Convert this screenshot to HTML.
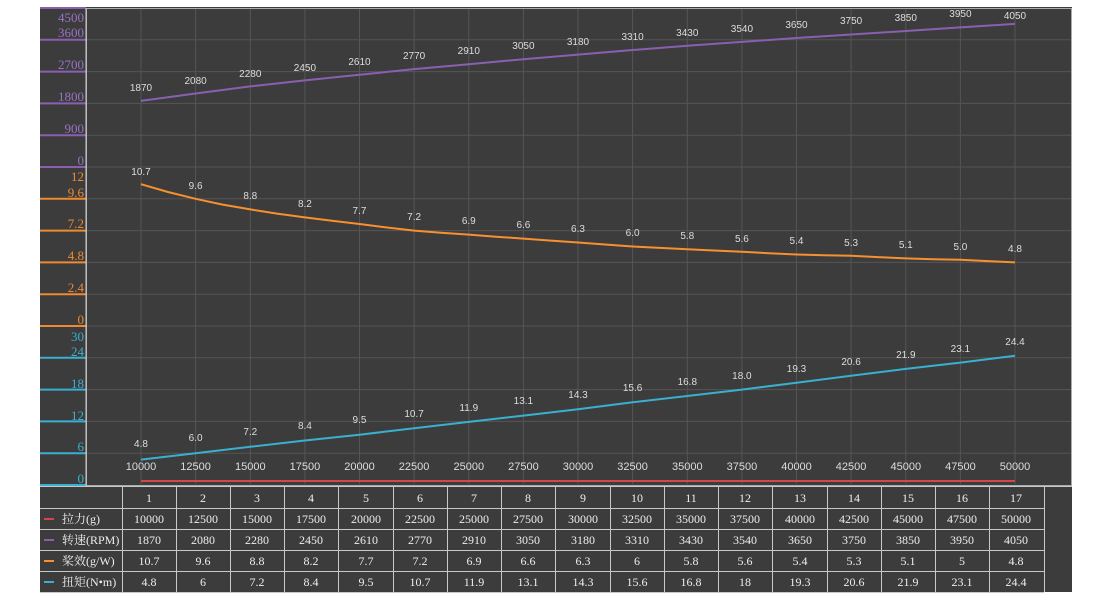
<!DOCTYPE html>
<html><head><meta charset="utf-8"><style>
body{margin:0;background:#fff;width:1100px;height:600px;overflow:hidden}
svg{display:block}
.ax{font-family:"Liberation Serif","Noto Serif CJK SC",serif;font-size:13px;text-anchor:end}
.dl{font-family:"Liberation Sans",sans-serif;font-size:10px;fill:#ddd;text-anchor:middle}
.xl{font-family:"Liberation Sans",sans-serif;font-size:11px;fill:#ddd;text-anchor:middle}
.tb{font-family:"Liberation Serif","Noto Serif CJK SC",serif;font-size:12px;fill:#eee;text-anchor:middle}
.tl{font-family:"Liberation Serif","Noto Serif CJK SC",serif;font-size:12px;fill:#eee}
</style></head><body>
<svg width="1100" height="600" xmlns="http://www.w3.org/2000/svg">
<rect x="40" y="7" width="1032" height="585" fill="#3c3c3c"/>
<g stroke="#555" stroke-width="1">
<line x1="87" x2="1071" y1="39.8" y2="39.8"/><line x1="87" x2="1071" y1="71.6" y2="71.6"/><line x1="87" x2="1071" y1="103.4" y2="103.4"/><line x1="87" x2="1071" y1="135.2" y2="135.2"/><line x1="87" x2="1071" y1="167" y2="167"/><line x1="87" x2="1071" y1="198.8" y2="198.8"/><line x1="87" x2="1071" y1="230.6" y2="230.6"/><line x1="87" x2="1071" y1="262.4" y2="262.4"/><line x1="87" x2="1071" y1="294.2" y2="294.2"/><line x1="87" x2="1071" y1="326" y2="326"/><line x1="87" x2="1071" y1="357.8" y2="357.8"/><line x1="87" x2="1071" y1="389.6" y2="389.6"/><line x1="87" x2="1071" y1="421.4" y2="421.4"/><line x1="87" x2="1071" y1="453.2" y2="453.2"/>
<line y1="9" y2="484" x1="141" x2="141"/><line y1="9" y2="484" x1="195.6" x2="195.6"/><line y1="9" y2="484" x1="250.3" x2="250.3"/><line y1="9" y2="484" x1="304.9" x2="304.9"/><line y1="9" y2="484" x1="359.5" x2="359.5"/><line y1="9" y2="484" x1="414.1" x2="414.1"/><line y1="9" y2="484" x1="468.8" x2="468.8"/><line y1="9" y2="484" x1="523.4" x2="523.4"/><line y1="9" y2="484" x1="578" x2="578"/><line y1="9" y2="484" x1="632.6" x2="632.6"/><line y1="9" y2="484" x1="687.3" x2="687.3"/><line y1="9" y2="484" x1="741.9" x2="741.9"/><line y1="9" y2="484" x1="796.5" x2="796.5"/><line y1="9" y2="484" x1="851.1" x2="851.1"/><line y1="9" y2="484" x1="905.8" x2="905.8"/><line y1="9" y2="484" x1="960.4" x2="960.4"/><line y1="9" y2="484" x1="1015" x2="1015"/>
</g>
<rect x="86.5" y="8.5" width="985" height="477" fill="none" stroke="#aaa"/>
<g stroke-width="2">
<g stroke="#8a5fb0"><line x1="40" x2="86" y1="8" y2="8"/><line x1="40" x2="86" y1="39.8" y2="39.8"/><line x1="40" x2="86" y1="71.6" y2="71.6"/><line x1="40" x2="86" y1="103.4" y2="103.4"/><line x1="40" x2="86" y1="135.2" y2="135.2"/><line x1="40" x2="86" y1="167" y2="167"/></g>
<g stroke="#f08a30"><line x1="40" x2="86" y1="198.8" y2="198.8"/><line x1="40" x2="86" y1="230.6" y2="230.6"/><line x1="40" x2="86" y1="262.4" y2="262.4"/><line x1="40" x2="86" y1="294.2" y2="294.2"/><line x1="40" x2="86" y1="326" y2="326"/></g>
<g stroke="#3ab0d0"><line x1="40" x2="86" y1="357.8" y2="357.8"/><line x1="40" x2="86" y1="389.6" y2="389.6"/><line x1="40" x2="86" y1="421.4" y2="421.4"/><line x1="40" x2="86" y1="453.2" y2="453.2"/><line x1="40" x2="86" y1="485" y2="485"/></g>
</g>
<line x1="86" x2="86" y1="8" y2="486" stroke="#ccc" stroke-width="1"/>
<g class="ax" fill="#9a72c4"><text x="84" y="22">4500</text><text x="84" y="37">3600</text><text x="84" y="69">2700</text><text x="84" y="101">1800</text><text x="84" y="133">900</text><text x="84" y="165">0</text></g>
<g class="ax" fill="#f08a30"><text x="84" y="181">12</text><text x="84" y="197">9.6</text><text x="84" y="228">7.2</text><text x="84" y="260">4.8</text><text x="84" y="292">2.4</text><text x="84" y="324">0</text></g>
<g class="ax" fill="#3ab0d0"><text x="84" y="341">30</text><text x="84" y="356">24</text><text x="84" y="388">18</text><text x="84" y="420">12</text><text x="84" y="451">6</text><text x="84" y="483">0</text></g>
<polyline fill="none" stroke="#8a5fb0" stroke-width="2" points="141,100.9 195.6,93.5 250.3,86.4 304.9,80.4 359.5,74.8 414.1,69.1 468.8,64.2 523.4,59.2 578,54.6 632.6,50 687.3,45.8 741.9,41.9 796.5,38 851.1,34.5 905.8,31 960.4,27.4 1015,23.9"/>
<polyline fill="none" stroke="#f7902f" stroke-width="2" stroke-linejoin="round" points="141,184.2 168,192 195.6,198.8 222,204.5 250.3,209.4 277,213.6 304.9,217.4 332,220.8 359.5,224 387,227.5 414.1,230.6 441,232.7 468.8,234.6 496,236.7 523.4,238.6 551,240.6 578,242.5 605,244.5 632.6,246.5 660,247.9 687.3,249.2 714,250.5 741.9,251.8 769,253.2 796.5,254.5 824,255.2 851.1,255.8 878,257.1 905.8,258.4 933,259.2 960.4,259.8 988,261.1 1015,262.4"/>
<polyline fill="none" stroke="#3ab0d0" stroke-width="2" points="141,459.6 195.6,453.2 250.3,446.8 304.9,440.5 359.5,434.7 414.1,428.3 468.8,421.9 523.4,415.6 578,409.2 632.6,402.3 687.3,396 741.9,389.6 796.5,382.7 851.1,375.8 905.8,368.9 960.4,362.6 1015,355.7"/>
<line x1="141" x2="1015" y1="481" y2="481" stroke="#d04848" stroke-width="2"/>
<g class="dl">
<text x="141" y="91">1870</text><text x="195.6" y="84">2080</text><text x="250.3" y="77">2280</text><text x="304.9" y="71">2450</text><text x="359.5" y="65">2610</text><text x="414.1" y="59">2770</text><text x="468.8" y="54">2910</text><text x="523.4" y="49">3050</text><text x="578" y="45">3180</text><text x="632.6" y="40">3310</text><text x="687.3" y="36">3430</text><text x="741.9" y="32">3540</text><text x="796.5" y="28">3650</text><text x="851.1" y="24">3750</text><text x="905.8" y="21">3850</text><text x="960.4" y="17">3950</text><text x="1015" y="19">4050</text>
<text x="141" y="175">10.7</text><text x="195.6" y="189">9.6</text><text x="250.3" y="199">8.8</text><text x="304.9" y="207">8.2</text><text x="359.5" y="214">7.7</text><text x="414.1" y="220">7.2</text><text x="468.8" y="224">6.9</text><text x="523.4" y="228">6.6</text><text x="578" y="232">6.3</text><text x="632.6" y="236">6.0</text><text x="687.3" y="239">5.8</text><text x="741.9" y="242">5.6</text><text x="796.5" y="244">5.4</text><text x="851.1" y="246">5.3</text><text x="905.8" y="248">5.1</text><text x="960.4" y="250">5.0</text><text x="1015" y="252">4.8</text>
<text x="141" y="447">4.8</text><text x="195.6" y="441">6.0</text><text x="250.3" y="435">7.2</text><text x="304.9" y="429">8.4</text><text x="359.5" y="423">9.5</text><text x="414.1" y="417">10.7</text><text x="468.8" y="411">11.9</text><text x="523.4" y="404">13.1</text><text x="578" y="398">14.3</text><text x="632.6" y="391">15.6</text><text x="687.3" y="385">16.8</text><text x="741.9" y="379">18.0</text><text x="796.5" y="372">19.3</text><text x="851.1" y="365">20.6</text><text x="905.8" y="358">21.9</text><text x="960.4" y="352">23.1</text><text x="1015" y="345">24.4</text>
</g>
<g class="xl"><text x="141" y="470">10000</text><text x="195.6" y="470">12500</text><text x="250.3" y="470">15000</text><text x="304.9" y="470">17500</text><text x="359.5" y="470">20000</text><text x="414.1" y="470">22500</text><text x="468.8" y="470">25000</text><text x="523.4" y="470">27500</text><text x="578" y="470">30000</text><text x="632.6" y="470">32500</text><text x="687.3" y="470">35000</text><text x="741.9" y="470">37500</text><text x="796.5" y="470">40000</text><text x="851.1" y="470">42500</text><text x="905.8" y="470">45000</text><text x="960.4" y="470">47500</text><text x="1015" y="470">50000</text></g>
<g stroke="#c8c8c8" stroke-width="1">
<line x1="40" x2="1072" y1="486.5" y2="486.5"/>
<line x1="40" x2="1044" y1="508.5" y2="508.5"/><line x1="40" x2="1044" y1="529.5" y2="529.5"/><line x1="40" x2="1044" y1="550.5" y2="550.5"/><line x1="40" x2="1044" y1="571.5" y2="571.5"/><line x1="40" x2="1044" y1="592.5" y2="592.5"/>
<line x1="122.5" x2="122.5" y1="486" y2="592"/><line x1="176.5" x2="176.5" y1="486" y2="592"/><line x1="230.5" x2="230.5" y1="486" y2="592"/><line x1="284.5" x2="284.5" y1="486" y2="592"/><line x1="338.5" x2="338.5" y1="486" y2="592"/><line x1="393.5" x2="393.5" y1="486" y2="592"/><line x1="447.5" x2="447.5" y1="486" y2="592"/><line x1="501.5" x2="501.5" y1="486" y2="592"/><line x1="555.5" x2="555.5" y1="486" y2="592"/><line x1="610.5" x2="610.5" y1="486" y2="592"/><line x1="664.5" x2="664.5" y1="486" y2="592"/><line x1="718.5" x2="718.5" y1="486" y2="592"/><line x1="772.5" x2="772.5" y1="486" y2="592"/><line x1="827.5" x2="827.5" y1="486" y2="592"/><line x1="881.5" x2="881.5" y1="486" y2="592"/><line x1="935.5" x2="935.5" y1="486" y2="592"/><line x1="989.5" x2="989.5" y1="486" y2="592"/><line x1="1044.5" x2="1044.5" y1="486" y2="592"/>
</g>
<g stroke-width="2"><line x1="44" x2="54" y1="519" y2="519" stroke="#d04848"/><line x1="44" x2="54" y1="540" y2="540" stroke="#8a5fb0"/><line x1="44" x2="54" y1="561" y2="561" stroke="#f7902f"/><line x1="44" x2="54" y1="582" y2="582" stroke="#3ab0d0"/></g>
<g class="tl"><text x="62" y="523">拉力(g)</text><text x="62" y="544">转速(RPM)</text><text x="62" y="565">桨效(g/W)</text><text x="62" y="586">扭矩(N•m)</text></g>
<g class="tb">
<text x="149" y="502">1</text><text x="203" y="502">2</text><text x="257" y="502">3</text><text x="311" y="502">4</text><text x="366" y="502">5</text><text x="420" y="502">6</text><text x="474" y="502">7</text><text x="528" y="502">8</text><text x="583" y="502">9</text><text x="637" y="502">10</text><text x="691" y="502">11</text><text x="745" y="502">12</text><text x="800" y="502">13</text><text x="854" y="502">14</text><text x="908" y="502">15</text><text x="962" y="502">16</text><text x="1016" y="502">17</text>
<text x="149" y="523">10000</text><text x="203" y="523">12500</text><text x="257" y="523">15000</text><text x="311" y="523">17500</text><text x="366" y="523">20000</text><text x="420" y="523">22500</text><text x="474" y="523">25000</text><text x="528" y="523">27500</text><text x="583" y="523">30000</text><text x="637" y="523">32500</text><text x="691" y="523">35000</text><text x="745" y="523">37500</text><text x="800" y="523">40000</text><text x="854" y="523">42500</text><text x="908" y="523">45000</text><text x="962" y="523">47500</text><text x="1016" y="523">50000</text>
<text x="149" y="544">1870</text><text x="203" y="544">2080</text><text x="257" y="544">2280</text><text x="311" y="544">2450</text><text x="366" y="544">2610</text><text x="420" y="544">2770</text><text x="474" y="544">2910</text><text x="528" y="544">3050</text><text x="583" y="544">3180</text><text x="637" y="544">3310</text><text x="691" y="544">3430</text><text x="745" y="544">3540</text><text x="800" y="544">3650</text><text x="854" y="544">3750</text><text x="908" y="544">3850</text><text x="962" y="544">3950</text><text x="1016" y="544">4050</text>
<text x="149" y="565">10.7</text><text x="203" y="565">9.6</text><text x="257" y="565">8.8</text><text x="311" y="565">8.2</text><text x="366" y="565">7.7</text><text x="420" y="565">7.2</text><text x="474" y="565">6.9</text><text x="528" y="565">6.6</text><text x="583" y="565">6.3</text><text x="637" y="565">6</text><text x="691" y="565">5.8</text><text x="745" y="565">5.6</text><text x="800" y="565">5.4</text><text x="854" y="565">5.3</text><text x="908" y="565">5.1</text><text x="962" y="565">5</text><text x="1016" y="565">4.8</text>
<text x="149" y="586">4.8</text><text x="203" y="586">6</text><text x="257" y="586">7.2</text><text x="311" y="586">8.4</text><text x="366" y="586">9.5</text><text x="420" y="586">10.7</text><text x="474" y="586">11.9</text><text x="528" y="586">13.1</text><text x="583" y="586">14.3</text><text x="637" y="586">15.6</text><text x="691" y="586">16.8</text><text x="745" y="586">18</text><text x="800" y="586">19.3</text><text x="854" y="586">20.6</text><text x="908" y="586">21.9</text><text x="962" y="586">23.1</text><text x="1016" y="586">24.4</text>
</g>
</svg>
</body></html>
